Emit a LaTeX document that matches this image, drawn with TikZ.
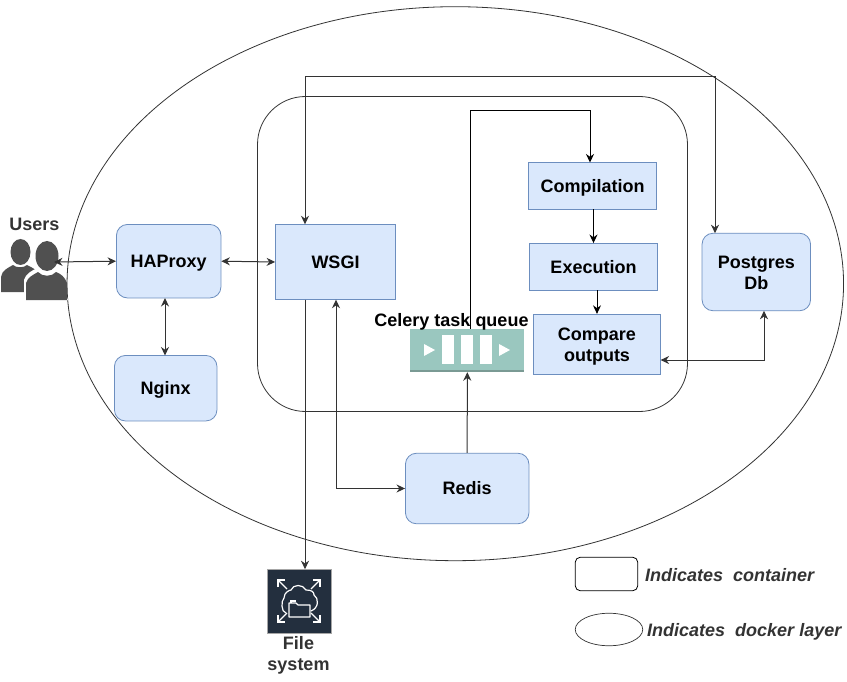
\documentclass[tikz,border=0pt]{standalone}
\usepackage{fontspec}
\setmainfont{Liberation Sans}
\usetikzlibrary{arrows.meta,shapes.geometric}
\definecolor{bfill}{HTML}{DAE8FC}
\definecolor{bline}{HTML}{6C8EBF}
\definecolor{ink}{HTML}{333333}
\definecolor{teal}{HTML}{9AC7BF}
\definecolor{tealdk}{HTML}{7A9A94}
\definecolor{navy}{HTML}{232F3E}
\definecolor{gr}{HTML}{505050}
\tikzset{
  x=1pt,y=-1pt,
  tip/.style={-{Stealth[length=8.5pt,width=8pt]}},
  dtip/.style={{Stealth[length=8.5pt,width=8pt]}-{Stealth[length=8.5pt,width=8pt]}},
  conn/.style={draw=ink,line width=1pt},
  box/.style={draw=bline,fill=bfill,line width=.8pt,inner sep=0pt,align=center,font=\fontsize{18}{21}\selectfont\bfseries,text=black},
  rbox/.style={box,rounded corners=11pt},
  lab/.style={font=\fontsize{18}{21}\selectfont\bfseries,text=ink,inner sep=0pt,align=center},
  legend/.style={font=\fontsize{18}{21}\selectfont\bfseries\itshape,text=ink,inner sep=0pt,anchor=west},
  outl/.style={draw=ink,line width=.8pt},
}
\newcommand{\dn}[2][13]{\raisebox{0pt}[#1pt][0pt]{#2}}
\begin{document}
\begin{tikzpicture}
\useasboundingbox (0,0) rectangle (847,682);
\fill[white] (0,0) rectangle (847,682);
% docker layer and container
\node[ellipse,outl,minimum width=776.5pt,minimum height=554pt,inner sep=0pt] (layer) at (455.3,283.7) {};
\node[outl,rounded corners=48pt,minimum width=430pt,minimum height=315pt,inner sep=0pt] (cont) at (472.5,254) {};
% boxes
\node[rbox,minimum width=104.5pt,minimum height=73.5pt] (ha) at (168.7,261.2) {\dn{HAProxy}};
\node[rbox,minimum width=102.5pt,minimum height=65.5pt] (ng) at (165.7,388.2) {\dn[12]{Nginx}};
\node[box,minimum width=120pt,minimum height=75.5pt] (wsgi) at (335.5,262) {\dn{WSGI}};
\node[box,minimum width=128.2pt,minimum height=46.5pt] (comp) at (592.5,185.7) {\dn{Compilation}};
\node[box,minimum width=128.2pt,minimum height=46.5pt] (exec) at (593.5,266.7) {\dn{Execution}};
\node[box,minimum width=127.2pt,minimum height=60.5pt] (cmp) at (597,344.5) {\dn{Compare}\\\dn{outputs}};
\node[rbox,minimum width=108.5pt,minimum height=77.5pt] (pg) at (756.3,272) {\dn[15]{Postgres}\\\dn[13]{Db}};
\node[rbox,minimum width=123.5pt,minimum height=70.5pt] (redis) at (467.2,488.5) {\dn[12]{Redis}};
% queue
\node[fill=teal,minimum width=114pt,minimum height=43pt,inner sep=0pt] (queue) at (467.3,350.5) {};
\fill[tealdk] (410.3,369.5) rectangle (524.3,372);
\fill[white] (442,335) rectangle (454,364);
\fill[white] (461,335) rectangle (473,364);
\fill[white] (480,335) rectangle (492,364);
\fill[white] (424,344) -- (435,350) -- (424,356) -- cycle;
\fill[white] (499,344) -- (510,350) -- (499,356) -- cycle;
\node[font=\fontsize{18}{21}\selectfont\bfseries,text=black,inner sep=0pt] (qlab) at (451.5,321.7) {Celery task queue};
% users
\begin{scope}
\fill[gr] (1,292) -- (1,277) .. controls (2,270) and (8,268) .. (13,265) .. controls (16,268) and (24,268) .. (27,265) .. controls (31,267) and (35,269) .. (38,272) -- (30,292) -- cycle;
\fill[gr] (20.5,252) ellipse [x radius=10,y radius=13];
\fill[white] (24,300) -- (24,280) .. controls (26,273) and (32,271) .. (37,268) -- (58,268) -- (68,300) -- cycle;
\fill[gr] (47,256) ellipse [x radius=11.5,y radius=15];
\fill[gr] (26,300) -- (26,283) .. controls (28,277) and (33,275) .. (38,272) .. controls (42,277) and (52,277) .. (56,272) .. controls (61,274) and (65,277) .. (67,283) -- (67,300) -- cycle;
\end{scope}
\coordinate (uarrow) at (54,262);
\node[lab] (ulab) at (34.5,224.3) {Users};
% file system
\node[fill=navy,draw=gray!70,line width=.5pt,minimum width=63.5pt,minimum height=63.5pt,inner sep=0pt] (fs) at (299,601) {};
\begin{scope}[draw=white,line width=1.2pt]
\draw[line join=round] (286,613) .. controls (281,612) and (281,601) .. (284,598) .. controls (284,592) and (290,590) .. (291,590) .. controls (293,584) and (303,584) .. (306,590) .. controls (312,590) and (314,592) .. (314,595) .. controls (319,598) and (319,608) .. (311,611);
\draw[line join=round,fill=navy] (289,617) -- (289,603) -- (296,603) -- (298,605) -- (310,605) -- (310,617) -- cycle;
\draw (291,603) -- (291,601) -- (296,601);
\draw[line width=1.4pt] (278,580) -- (287,589);
\draw[line width=1.4pt] (320,580) -- (311,589);
\draw[line width=1.4pt] (278,622) -- (287,613);
\draw[line width=1.4pt] (320,622) -- (311,613);
\draw[line width=1.2pt] (278,587) -- (278,580) -- (285,580);
\draw[line width=1.2pt] (313,580) -- (320,580) -- (320,587);
\draw[line width=1.2pt] (278,615) -- (278,622) -- (285,622);
\draw[line width=1.2pt] (313,622) -- (320,622) -- (320,615);
\end{scope}
\node[lab] (fslab) at (298.5,655.7) {File\\system};
% legend
\node[draw=black,line width=.8pt,rounded corners=5pt,minimum width=62.5pt,minimum height=33.5pt,inner sep=0pt] (lrect) at (606.5,574) {};
\node[legend] (ltxt1) at (645,575.3) {Indicates\ \ container};
\node[ellipse,draw=ink,line width=.7pt,minimum width=67.5pt,minimum height=32.5pt,inner sep=0pt] (lell) at (609,629.5) {};
\node[legend] (ltxt2) at (647,632.2) {Indicates\ \ docker layer};
% routing points
\coordinate (topl) at (305,77);
\coordinate (topr) at (715,77);
\coordinate (wtop) at (305,224.3);
\coordinate (wbot) at (305,299.7);
\coordinate (fstop) at (305,569.2);
\coordinate (pgtop) at (715,233.2);
\coordinate (wbot2) at (336,299.7);
\coordinate (qtop) at (470,329);
\coordinate (il) at (470,111);
\coordinate (ir) at (590,111);
\coordinate (ctop) at (590,162.5);
\coordinate (cmpr) at (660.6,360);
\coordinate (pgbot) at (764,310.8);
\coordinate (hab) at (165,298);
\coordinate (ngt) at (165,355.5);
% connectors
\draw[conn,dtip] (uarrow) -- (ha.west);
\draw[conn,dtip] (ha.east) -- (wsgi.west);
\draw[conn,dtip] (hab) -- (ngt);
\draw[conn,dtip] (wtop) -- (topl) -- (topr) -- (pgtop);
\draw[conn,tip] (wbot) -- (fstop);
\draw[conn,dtip] (wbot2) |- (redis.west);
\draw[conn,tip] (redis.north) -- (queue.south);
\draw[line width=1pt,draw=black,tip] (qtop) -- (il) -- (ir) -- (ctop);
\draw[conn,tip,draw=black] (comp.south -| exec.north) -- (exec.north);
\draw[conn,tip,draw=black] (exec.south -| cmp.north) -- (cmp.north);
\draw[conn,dtip] (cmpr) -| (pgbot);
\end{tikzpicture}
\end{document}
